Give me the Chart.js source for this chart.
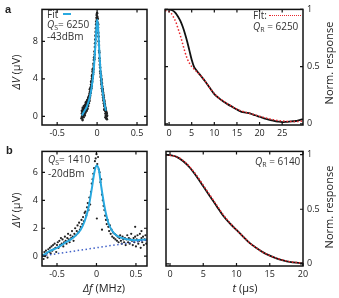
<!DOCTYPE html>
<html>
<head>
<meta charset="utf-8">
<script src="https://cdn.jsdelivr.net/npm/chart.js@4.4.1/dist/chart.umd.min.js"></script>
<style>
  body { margin: 0; width: 339px; height: 298px; position: relative; background: #fff; overflow: hidden; font-family: "Open Sans", sans-serif; color: #222; }
  canvas { position: absolute; }
  .txt { position: absolute; font-size: 10px; line-height: 1; white-space: nowrap; color: #333; }
  .ttl { position: absolute; font-size: 11px; line-height: 1; white-space: nowrap; color: #222; }
  .rot { transform: translate(-50%, -50%) rotate(-90deg); }
  .ctr { transform: translate(-50%, -50%); }
  .lbl { position: absolute; font: bold 11px "Liberation Sans", sans-serif; }
  sub { font-size: 7px; vertical-align: -2px; }
</style>
</head>
<body>
<canvas id="cAL" width="160" height="145" style="left:0;top:0"></canvas>
<canvas id="cAR" width="179" height="145" style="left:160px;top:0"></canvas>
<canvas id="cBL" width="160" height="145" style="left:0;top:142px"></canvas>
<canvas id="cBR" width="179" height="145" style="left:160px;top:142px"></canvas>

<div class="lbl" style="left:5px;top:3px">a</div>
<div class="lbl" style="left:6px;top:144px">b</div>

<div class="ttl rot" style="left:15px;top:72px"><i>ΔV</i> (μV)</div>
<div class="ttl rot" style="left:15px;top:210px"><i>ΔV</i> (μV)</div>
<div class="ttl rot" style="left:328px;top:63px">Norm. response</div>
<div class="ttl rot" style="left:328px;top:207px">Norm. response</div>
<div class="ttl ctr" style="left:104px;top:287px"><i>Δf</i> (MHz)</div>
<div class="ttl ctr" style="left:245px;top:287px"><i>t</i> (μs)</div>

<div class="txt" style="left:47px;top:9px">Fit <span style="display:inline-block;width:8px;height:2px;background:#29a9e0;vertical-align:3px;margin-left:2px"></span></div>
<div class="txt" style="left:47px;top:19px"><i>Q</i><sub>S</sub>= 6250</div>
<div class="txt" style="left:47px;top:31px">-43dBm</div>
<div class="txt" style="left:253px;top:10px">Fit: <span style="display:inline-block;width:32px;border-top:1.5px dotted #e8262c;vertical-align:3px"></span></div>
<div class="txt" style="left:253px;top:21px"><i>Q</i><sub>R</sub> = 6250</div>
<div class="txt" style="left:48px;top:154px"><i>Q</i><sub>S</sub>= 1410</div>
<div class="txt" style="left:48px;top:168px">-20dBm</div>
<div class="txt" style="left:255px;top:156px"><i>Q</i><sub>R</sub> = 6140</div>

<script>
// ---- panel a, left: resonance at -43 dBm
const aFreqTicks = [-0.5, 0, 0.5];
const aVoltTicks = [0, 4, 8];
const aPtsF = [-0.195,-0.19,-0.188,-0.185,-0.182,-0.18,-0.178,-0.175,-0.172,-0.17,-0.168,-0.165,-0.162,-0.16,-0.158,-0.155,-0.152,-0.15,-0.147,-0.145,-0.142,-0.14,-0.137,-0.135,-0.132,-0.13,-0.127,-0.125,-0.122,-0.12,-0.117,-0.115,-0.112,-0.11,-0.107,-0.105,-0.102,-0.1,-0.097,-0.095,-0.092,-0.09,-0.087,-0.085,-0.082,-0.08,-0.077,-0.075,-0.072,-0.07,-0.067,-0.065,-0.062,-0.06,-0.057,-0.055,-0.052,-0.05,-0.047,-0.045,-0.042,-0.04,-0.037,-0.035,-0.032,-0.03,-0.027,-0.025,-0.022,-0.02,-0.017,-0.015,-0.012,-0.01,-0.007,-0.005,-0.002,0,0.003,0.005,0.008,0.01,0.013,0.015,0.018,0.02,0.023,0.025,0.028,0.03,0.033,0.035,0.038,0.04,0.043,0.045,0.048,0.05,0.053,0.055,0.058,0.06,0.063,0.065,0.068,0.07,0.073,0.075,0.078,0.08,0.083,0.085,0.088,0.09,0.093,0.095,0.098,0.1,0.103,0.105,0.108,0.11,0.113,0.115,0.118,0.12,0.123,
  -0.19,-0.185,-0.18,-0.175,-0.17,-0.165,-0.16,-0.155,-0.15,-0.145,-0.14,-0.135,-0.13,-0.125,-0.12,-0.115,-0.11,-0.105,-0.1,-0.095,-0.09,-0.085,-0.08,-0.075,-0.07,-0.065,-0.06,-0.055,-0.05,
  0.05,0.055,0.06,0.065,0.07,0.075,0.08,0.085,0.09,0.095,0.1,0.105,0.11,0.115,0.12,0.125,0.105,0.09];
const aPtsV = [-0.2,0.3,0.0,0.5,-0.4,0.2,0.7,0.1,0.4,-0.1,0.9,0.3,0.6,1.0,0.2,0.8,0.5,1.2,0.6,0.9,1.3,0.7,1.1,0.8,1.5,1.0,1.3,0.9,1.6,1.2,1.4,1.8,1.1,1.6,2.0,1.4,1.8,2.2,1.7,2.4,2.0,2.6,2.2,2.9,2.5,3.1,2.8,3.4,3.0,3.7,3.3,4.0,3.7,4.4,4.1,4.8,4.5,5.1,5.0,5.6,5.4,6.0,6.3,6.1,6.9,6.6,7.4,7.8,8.2,8.6,9.0,9.4,9.8,10.1,10.5,10.8,10.3,11.0,10.6,10.0,10.4,9.5,9.8,8.9,8.5,8.0,7.6,7.0,6.8,6.2,5.9,5.5,5.2,4.8,4.6,4.2,4.4,3.8,4.0,3.4,3.6,3.0,3.2,2.7,2.9,2.3,2.6,2.0,2.3,1.7,2.0,1.4,1.7,1.1,1.4,0.8,1.2,0.6,0.9,0.3,0.7,0.1,0.5,-0.2,0.3,0.0,-0.3,
  0.6,-0.1,0.9,0.5,0.2,1.1,0.4,0.1,0.9,0.4,1.5,1.3,0.6,1.7,0.8,1.2,2.0,1.9,1.6,2.0,2.9,2.5,2.7,3.7,3.2,4.3,4.0,5.0,4.7,
  4.3,3.9,3.5,3.0,2.8,2.5,2.2,1.8,1.6,1.3,1.0,0.8,0.6,0.4,0.3,0.1,-0.1,0.7];
const aFitF = [-0.19,-0.17,-0.15,-0.13,-0.11,-0.09,-0.07,-0.05,-0.04,-0.03,-0.02,-0.01,0,0.01,0.02,0.03,0.04,0.05,0.06,0.07,0.08,0.09,0.1,0.11];
const aFitV = [0.1,0.4,0.7,1.0,1.5,2.1,3.0,4.3,5.2,6.4,7.8,9.3,10.3,9.8,8.3,6.6,5.2,4.2,3.3,2.6,2.0,1.5,1.0,0.6];

// ---- panel a, right: ring-down
const aTimeTicks = [0, 5, 10, 15, 20, 25];
const respTicks = [0, 0.5, 1];
const aTime = [-0.9,0,0.5,1,1.5,2,2.5,3,3.5,4,4.5,5,5.5,6,7,8,9,10,11,12,13,14,15,16,17,18,19,20,21,22,23,24,25,26,27,28,29,29.6];
const aResp = [1.0,1.0,0.995,0.985,0.965,0.935,0.9,0.85,0.79,0.72,0.64,0.56,0.5,0.47,0.42,0.37,0.315,0.26,0.225,0.195,0.17,0.148,0.125,0.105,0.098,0.09,0.075,0.062,0.048,0.037,0.028,0.02,0.015,0.018,0.022,0.025,0.035,0.04];
const aRespFit = [0.99,0.98,0.965,0.93,0.89,0.83,0.77,0.7,0.63,0.57,0.53,0.5,0.48,0.46,0.42,0.37,0.315,0.265,0.225,0.2,0.172,0.15,0.128,0.112,0.1,0.09,0.078,0.066,0.055,0.045,0.037,0.03,0.025,0.022,0.02,0.02,0.022,0.025];

// ---- panel b, left: resonance at -20 dBm
const bFreqTicks = [-0.5, 0, 0.5];
const bVoltTicks = [0, 2, 4, 6];
const bPtsF = [-0.68,-0.67,-0.66,-0.65,-0.64,-0.63,-0.62,-0.61,-0.6,-0.59,-0.58,-0.57,-0.56,-0.55,-0.54,-0.53,-0.52,-0.51,-0.5,-0.49,-0.48,-0.47,-0.46,-0.45,-0.44,-0.43,-0.42,-0.41,-0.4,-0.39,-0.38,-0.37,-0.36,-0.35,-0.34,-0.33,-0.32,-0.31,-0.3,-0.29,-0.28,-0.27,-0.26,-0.25,-0.24,-0.23,-0.22,-0.21,-0.2,-0.19,-0.18,-0.17,-0.16,-0.15,-0.14,-0.13,-0.12,-0.11,-0.1,-0.09,-0.08,-0.07,-0.06,-0.05,-0.04,-0.03,-0.02,-0.01,0,0.005,0.01,0.02,0.03,0.04,0.05,0.06,0.07,0.07,0.08,0.09,0.1,0.11,0.12,0.13,0.14,0.15,0.16,0.17,0.18,0.19,0.2,0.21,0.22,0.23,0.24,0.25,0.26,0.27,0.28,0.29,0.3,0.31,0.32,0.33,0.34,0.35,0.36,0.37,0.38,0.39,0.4,0.41,0.42,0.43,0.44,0.45,0.46,0.47,0.48,0.49,0.49,0.5,0.51,0.52,0.53,0.54,0.55,0.56,0.57,0.57,0.58,0.59,0.6,0.61,0.62,0.63];
const bPtsV = [0.1,-0.2,0.3,0.0,0.4,0.2,-0.1,0.5,0.3,0.6,0.2,0.7,0.4,0.8,0.5,0.9,0.6,0.3,0.8,1.0,0.6,1.1,0.8,1.3,0.9,1.2,0.7,1.0,1.4,1.1,0.9,1.3,1.6,1.2,1.0,1.5,1.3,1.8,1.4,1.1,1.6,2.0,1.5,1.8,2.2,1.7,2.4,1.9,2.1,2.6,2.3,2.8,2.5,3.1,3.2,2.9,3.5,3.8,3.3,4.2,3.7,4.6,5.2,5.5,5.9,6.3,6.8,7.0,7.3,2.7,6.6,7.1,6.2,6.0,5.3,5.5,4.4,1.9,4.0,3.6,3.3,2.9,2.6,2.3,2.6,2.1,1.8,2.2,1.6,1.9,1.4,1.7,1.3,1.6,1.2,1.5,1.1,1.4,1.0,1.3,1.5,1.1,0.9,1.4,1.2,1.0,1.3,0.8,1.2,1.5,1.0,1.3,0.9,1.2,1.6,1.1,0.8,1.3,1.0,1.4,2.1,0.7,1.2,1.5,0.9,1.1,1.6,0.6,1.3,1.8,1.0,1.4,0.8,1.2,1.5,0.9];
const bFitF = [-0.69,-0.6,-0.5,-0.4,-0.3,-0.2,-0.15,-0.1,-0.06,-0.03,0,0.03,0.06,0.1,0.15,0.2,0.25,0.3,0.4,0.5,0.64];
const bFitV = [0.0,0.35,0.6,0.95,1.3,1.9,2.5,3.5,4.8,5.9,6.5,6.2,5.0,3.6,2.4,1.8,1.5,1.35,1.2,1.15,1.2];
const bBaseF = [-0.69, 0.64];
const bBaseV = [0.02, 1.15];

// ---- panel b, right: ring-down
const bTimeTicks = [0, 5, 10, 15, 20];
const bTime = [-0.6,0,1,2,3,4,5,6,7,8,9,10,11,12,13,14,15,16,17,18,19,20];
const bResp = [1.0,0.995,0.98,0.94,0.88,0.8,0.71,0.62,0.53,0.44,0.37,0.31,0.25,0.19,0.145,0.105,0.075,0.05,0.032,0.018,0.01,0.005];
const bRespFit = [1.0,0.995,0.98,0.945,0.885,0.81,0.72,0.63,0.54,0.45,0.375,0.31,0.25,0.19,0.145,0.105,0.076,0.052,0.034,0.02,0.012,0.006];

Chart.defaults.font.family = "'Open Sans', sans-serif";
Chart.defaults.font.size = 9;
Chart.defaults.color = '#222';

const BLUE = '#29a9e0';
const RED = '#e8262c';

const pairs = (xs, ys) => xs.map((x, i) => ({ x: x, y: ys[i] }));

// frame around the plot plus inward tick marks on all four sides
const framePlugin = {
  id: 'frame',
  afterDatasetsDraw(chart) {
    const { ctx, chartArea: a, scales } = chart;
    ctx.save();
    ctx.strokeStyle = '#111';
    ctx.lineWidth = 1.5;
    ctx.strokeRect(a.left, a.top, a.right - a.left, a.bottom - a.top);
    ctx.lineWidth = 1.2;
    ctx.beginPath();
    scales.x.ticks.forEach(t => {
      const p = scales.x.getPixelForValue(t.value);
      ctx.moveTo(p, a.bottom); ctx.lineTo(p, a.bottom - 3);
      ctx.moveTo(p, a.top); ctx.lineTo(p, a.top + 3);
    });
    scales.y.ticks.forEach(t => {
      const p = scales.y.getPixelForValue(t.value);
      ctx.moveTo(a.left, p); ctx.lineTo(a.left + 3, p);
      ctx.moveTo(a.right, p); ctx.lineTo(a.right - 3, p);
    });
    ctx.stroke();
    ctx.restore();
  }
};

function makeChart(id, datasets, o) {
  return new Chart(document.getElementById(id), {
    type: 'scatter',
    data: { datasets: datasets },
    plugins: [framePlugin],
    options: {
      responsive: false,
      animation: false,
      layout: { padding: o.pad },
      plugins: { legend: { display: false }, tooltip: { enabled: false } },
      scales: {
        x: {
          min: o.xMin, max: o.xMax,
          grid: { display: false, drawTicks: false }, border: { display: false },
          afterBuildTicks: s => { s.ticks = o.xTicks.map(v => ({ value: v })); },
          afterFit: s => { s.height = o.xH; },
          ticks: { padding: 3, maxRotation: 0, callback: v => String(v) }
        },
        y: {
          position: o.yPos,
          min: o.yMin, max: o.yMax,
          grid: { display: false, drawTicks: false }, border: { display: false },
          afterBuildTicks: s => { s.ticks = o.yTicks.map(v => ({ value: v })); },
          afterFit: s => { s.width = o.yW; },
          ticks: { padding: 4, callback: v => String(v) }
        }
      }
    }
  });
}

function dots(xs, ys, r) {
  return { data: pairs(xs, ys), pointRadius: r, pointBackgroundColor: '#222', pointBorderWidth: 0, showLine: false, order: 2 };
}
function curve(xs, ys, color, width, dash) {
  return { data: pairs(xs, ys), showLine: true, pointRadius: 0, borderColor: color, borderWidth: width,
           borderDash: dash || [], cubicInterpolationMode: 'monotone', order: 1 };
}

makeChart('cAL', [
  curve(aFitF, aFitV, BLUE, 2),
  dots(aPtsF, aPtsV, 1.3)
], { pad: { left: 0, top: 5, right: 13, bottom: 0 }, xMin: -0.69, xMax: 0.625, yMin: -0.92, yMax: 11.4,
     xTicks: aFreqTicks, yTicks: aVoltTicks, yPos: 'left', yW: 42, xH: 20 });

makeChart('cAR', [
  curve(aTime, aRespFit, RED, 1.5, [1.5, 2]),
  curve(aTime, aResp, '#111', 1.8)
], { pad: { left: 5, top: 5, right: 0, bottom: 0 }, xMin: -0.9, xMax: 29.6, yMin: -0.01, yMax: 1.0,
     xTicks: aTimeTicks, yTicks: respTicks, yPos: 'right', yW: 36, xH: 20 });

makeChart('cBL', [
  curve(bBaseF, bBaseV, '#4262c8', 1.5, [1.5, 2.5]),
  curve(bFitF, bFitV, BLUE, 2),
  dots(bPtsF, bPtsV, 1.1)
], { pad: { left: 0, top: 5, right: 13, bottom: 0 }, xMin: -0.69, xMax: 0.64, yMin: -0.7, yMax: 7.5,
     xTicks: bFreqTicks, yTicks: bVoltTicks, yPos: 'left', yW: 42, xH: 21 });

makeChart('cBR', [
  curve(bTime, bRespFit, RED, 1.5, [1.5, 2]),
  curve(bTime, bResp, '#111', 1.8)
], { pad: { left: 6, top: 5, right: 0, bottom: 0 }, xMin: -0.6, xMax: 20, yMin: -0.02, yMax: 1.03,
     xTicks: bTimeTicks, yTicks: respTicks, yPos: 'right', yW: 36, xH: 21 });
</script>
</body>
</html>
